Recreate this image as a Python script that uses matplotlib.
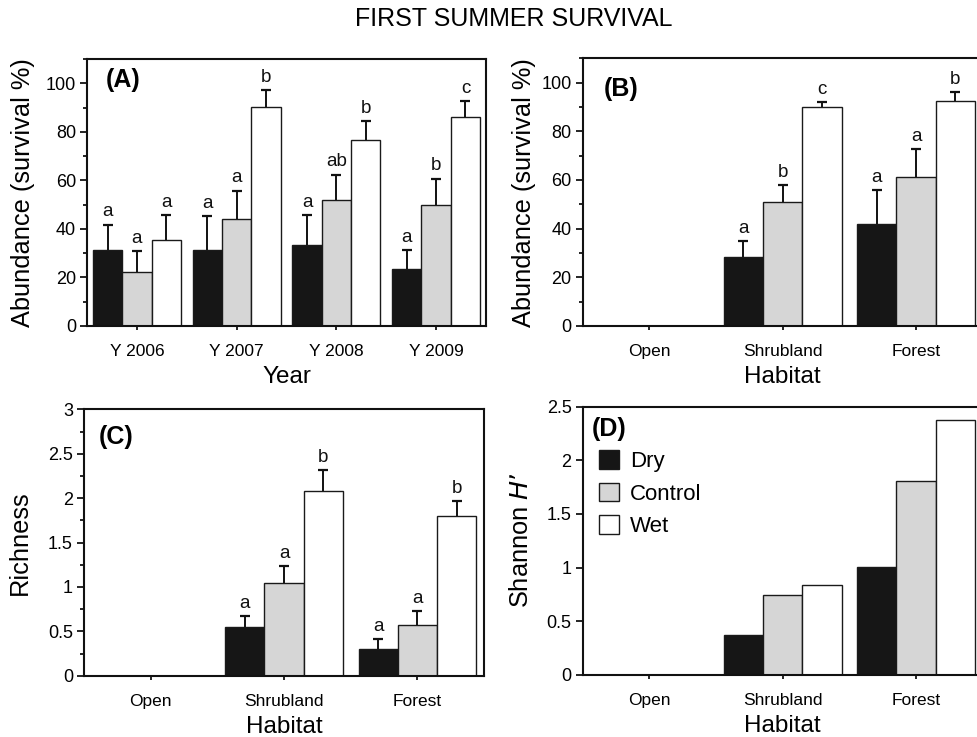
import matplotlib
matplotlib.use("Agg")
import matplotlib.pyplot as plt
import numpy as np
from matplotlib.patches import Patch
from matplotlib.ticker import MultipleLocator, FuncFormatter

plt.rcParams['font.family'] = ['Liberation Sans', 'DejaVu Sans']

# ---------------- data ----------------
treatments = ["Dry", "Control", "Wet"]
colors = ["#161616", "#d6d6d6", "#ffffff"]

years = ["Y 2006", "Y 2007", "Y 2008", "Y 2009"]
a_dry = [31.5, 31.5, 33.4, 23.5]
a_dry_err = [10.3, 13.8, 12.3, 7.7]
a_ctrl = [22.3, 43.9, 52.0, 49.8]
a_ctrl_err = [8.5, 11.9, 10.4, 10.9]
a_wet = [35.4, 90.3, 76.6, 86.2]
a_wet_err = [10.3, 6.8, 7.9, 6.4]
a_letters_dry = ["a", "a", "a", "a"]
a_letters_ctrl = ["a", "a", "ab", "b"]
a_letters_wet = ["a", "b", "b", "c"]

habitats = ["Open", "Shrubland", "Forest"]
b_dry = [0, 28.2, 42.0]
b_dry_err = [0, 6.7, 13.8]
b_ctrl = [0, 50.9, 61.3]
b_ctrl_err = [0, 7.0, 11.5]
b_wet = [0, 89.9, 92.6]
b_wet_err = [0, 2.1, 3.4]
b_letters_dry = ["", "a", "a"]
b_letters_ctrl = ["", "b", "a"]
b_letters_wet = ["", "c", "b"]

c_dry = [0, 0.548, 0.297]
c_dry_err = [0, 0.124, 0.120]
c_ctrl = [0, 1.047, 0.574]
c_ctrl_err = [0, 0.188, 0.158]
c_wet = [0, 2.083, 1.80]
c_wet_err = [0, 0.233, 0.17]
c_letters_dry = ["", "a", "a"]
c_letters_ctrl = ["", "a", "a"]
c_letters_wet = ["", "b", "b"]

d_dry = [0, 0.37, 1.007]
d_ctrl = [0, 0.743, 1.81]
d_wet = [0, 0.837, 2.38]

# ---------------- figure ----------------
W, H = 978, 737
fig = plt.figure(figsize=(W / 100, H / 100), dpi=100)

def px_axes(left, top, right, bottom):
    return fig.add_axes([left / W, 1 - bottom / H, (right - left) / W, (bottom - top) / H])

axA = px_axes(87, 59, 486, 326)
axB = px_axes(582.7, 58.3, 982.7, 326)
axC = px_axes(84, 409.3, 484, 675.7)
axD = px_axes(582.7, 406.7, 982.7, 674.7)

bw = 0.294
edge = "#1a1a1a"

def draw(ax, cats, series, errs=None, letters=None):
    x = np.arange(len(cats))
    for i, vals in enumerate(series):
        xs = x + (i - 1) * bw
        ax.bar(xs, vals, width=bw, color=colors[i], edgecolor=edge, linewidth=1.0, zorder=2)
        if errs is not None:
            e = np.array(errs[i])
            v = np.array(vals)
            mask = v > 0
            ax.errorbar(xs[mask], v[mask], yerr=[np.zeros(mask.sum()), e[mask]], fmt='none',
                        ecolor='#111111', elinewidth=1.4, capsize=0, zorder=3)
            ax.plot(xs[mask], (v + e)[mask], linestyle='none', marker='_', markersize=7,
                    markeredgewidth=1.6, color='#111111', zorder=3)
            if letters is not None:
                for xx, vv, ee, lab in zip(xs, v, e, letters[i]):
                    if lab:
                        ax.annotate(lab, (xx, vv + ee), xytext=(0, 3), textcoords='offset points',
                                    ha='center', va='bottom', fontsize=13.5, color='#111111')
    ax.set_xticks(x)
    ax.set_xticklabels(cats, fontsize=12.5)
    ax.set_xlim(-0.5, len(cats) - 0.5)
    for s in ax.spines.values():
        s.set_linewidth(1.5)
        s.set_color('#111111')
    ax.tick_params(axis='y', which='major', length=5, width=1.2, labelsize=13, pad=3, direction='out')
    ax.tick_params(axis='y', which='minor', length=3, width=1.2, direction='out')
    ax.tick_params(axis='x', which='major', length=3, width=1.2, labelsize=12.5, pad=10, direction='out')

draw(axA, years, [a_dry, a_ctrl, a_wet], [a_dry_err, a_ctrl_err, a_wet_err],
     [a_letters_dry, a_letters_ctrl, a_letters_wet])
axA.set_ylim(0, 110)
axA.yaxis.set_major_locator(MultipleLocator(20))
axA.yaxis.set_minor_locator(MultipleLocator(10))

draw(axB, habitats, [b_dry, b_ctrl, b_wet], [b_dry_err, b_ctrl_err, b_wet_err],
     [b_letters_dry, b_letters_ctrl, b_letters_wet])
axB.set_ylim(0, 110)
axB.yaxis.set_major_locator(MultipleLocator(20))
axB.yaxis.set_minor_locator(MultipleLocator(10))

draw(axC, habitats, [c_dry, c_ctrl, c_wet], [c_dry_err, c_ctrl_err, c_wet_err],
     [c_letters_dry, c_letters_ctrl, c_letters_wet])
axC.set_ylim(0, 3)
axC.yaxis.set_major_locator(MultipleLocator(0.5))
axC.yaxis.set_minor_locator(MultipleLocator(0.25))

draw(axD, habitats, [d_dry, d_ctrl, d_wet])
axD.set_ylim(0, 2.5)
axD.yaxis.set_major_locator(MultipleLocator(0.5))

fmt = FuncFormatter(lambda v, p: ("%g" % v))
axC.yaxis.set_major_formatter(fmt)
axD.yaxis.set_major_formatter(fmt)

# labels
lab_fs = 18.3
axA.set_ylabel("Abundance (survival %)", fontsize=lab_fs)
axA.yaxis.set_label_coords(-0.13, 0.5)
axB.set_ylabel("Abundance (survival %)", fontsize=lab_fs)
axB.yaxis.set_label_coords(-0.117, 0.5)
axC.set_ylabel("Richness", fontsize=lab_fs)
axC.yaxis.set_label_coords(-0.13, 0.5)
axD.set_ylabel("Shannon $\\mathit{H}$\u2019", fontsize=lab_fs)
axD.yaxis.set_label_coords(-0.124, 0.5)

xl_fs = 17.5
axA.set_xlabel("Year", fontsize=xl_fs, labelpad=5)
axB.set_xlabel("Habitat", fontsize=xl_fs, labelpad=5)
axC.set_xlabel("Habitat", fontsize=xl_fs, labelpad=5)
axD.set_xlabel("Habitat", fontsize=xl_fs, labelpad=5)

# panel labels
axA.text(0.048, 0.966, "(A)", transform=axA.transAxes, fontsize=18, fontweight='bold', ha='left', va='top')
axB.text(0.052, 0.931, "(B)", transform=axB.transAxes, fontsize=18, fontweight='bold', ha='left', va='top')
axC.text(0.036, 0.941, "(C)", transform=axC.transAxes, fontsize=18, fontweight='bold', ha='left', va='top')
axD.text(0.0225, 0.960, "(D)", transform=axD.transAxes, fontsize=18, fontweight='bold', ha='left', va='top')

# legend
handles = [Patch(facecolor=c, edgecolor=edge, linewidth=1.0) for c in colors]
axD.legend(handles, treatments, loc='upper left', bbox_to_anchor=(0.041, 0.838), frameon=False,
           fontsize=16, handlelength=0.9, handleheight=0.9, handletextpad=0.5,
           labelspacing=0.48, borderpad=0, borderaxespad=0)

fig.text(514 / W, 1 - 19 / H, "FIRST SUMMER SURVIVAL", fontsize=18, ha='center', va='center')

fig.savefig("out.png", dpi=100)
